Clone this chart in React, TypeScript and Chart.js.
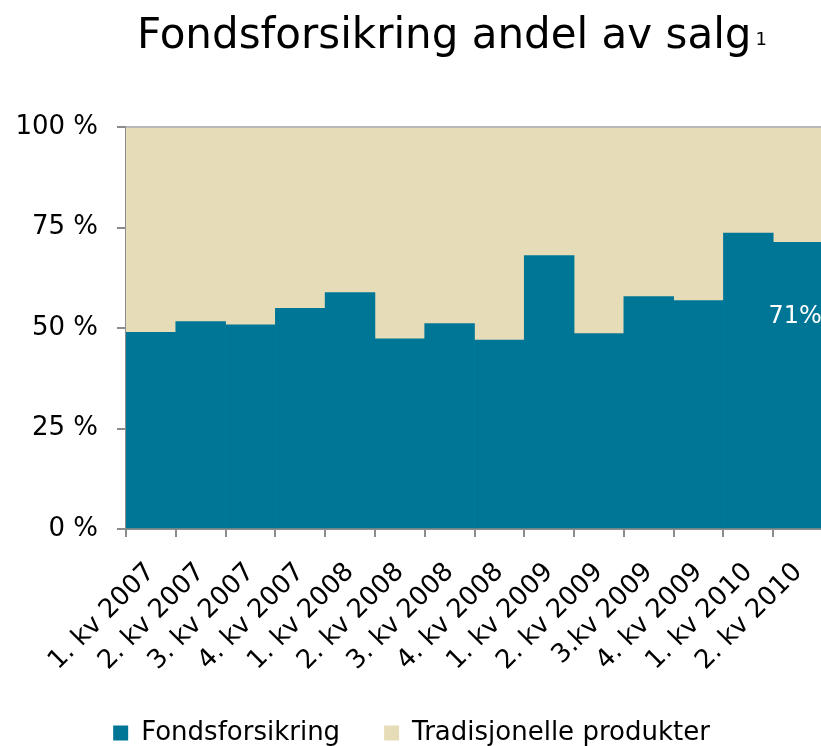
import React, { useEffect, useRef } from "react";
import { Chart, registerables } from "chart.js";

Chart.register(...registerables);

const categories = [
  "1. kv 2007", "2. kv 2007", "3. kv 2007", "4. kv 2007",
  "1. kv 2008", "2. kv 2008", "3. kv 2008", "4. kv 2008",
  "1. kv 2009", "2. kv 2009", "3.kv 2009", "4. kv 2009",
  "1. kv 2010", "2. kv 2010",
];
const fondsforsikring = [48.9, 51.6, 50.8, 54.9, 58.8, 47.3, 51.1, 47.0, 68.0, 48.6, 57.8, 56.8, 73.6, 71.3];
const tradisjonelle = [51.1, 48.4, 49.2, 45.1, 41.2, 52.7, 48.9, 53.0, 32.0, 51.4, 42.2, 43.2, 26.4, 28.7];
const yTickLabels = ["0 %", "25 %", "50 %", "75 %", "100 %"];
const seriesNames = ["Fondsforsikring", "Tradisjonelle produkter"];
const titleText = "Fondsforsikring andel av salg";
const titleSup = "1";
const highlightIndex = 13;

const FONT = "'DejaVu Sans', Verdana, sans-serif";
const TEAL = "#007696";
const BEIGE = "#E6DDB8";
const AXIS = "#8c8c8c";

export default function App() {
  const ref = useRef<HTMLCanvasElement>(null);

  useEffect(() => {
    if (!ref.current) return;

    const titlePlugin = {
      id: "titleDraw",
      afterDraw(chart: any) {
        const ctx = chart.ctx;
        ctx.save();
        ctx.fillStyle = "#000";
        ctx.textAlign = "left";
        ctx.textBaseline = "alphabetic";
        ctx.font = `42px ${FONT}`;
        ctx.fillText(titleText, 137, 48);
        const w = ctx.measureText(titleText).width;
        ctx.font = `18px ${FONT}`;
        ctx.fillText(titleSup, 137 + w + 4, 45);
        ctx.restore();
      },
    };

    const borderPlugin = {
      id: "topBorder",
      afterDatasetsDraw(chart: any) {
        const { ctx, chartArea } = chart;
        ctx.save();
        ctx.strokeStyle = "#b8b8b8";
        ctx.lineWidth = 2;
        ctx.beginPath();
        ctx.moveTo(chartArea.left, chartArea.top);
        ctx.lineTo(chartArea.right, chartArea.top);
        ctx.stroke();
        ctx.restore();
      },
    };

    const valueLabelPlugin = {
      id: "valueLabel",
      afterDatasetsDraw(chart: any) {
        const meta = chart.getDatasetMeta(0);
        const el = meta.data[highlightIndex];
        if (!el) return;
        const ctx = chart.ctx;
        ctx.save();
        ctx.fillStyle = "#ffffff";
        ctx.font = `24px ${FONT}`;
        ctx.textAlign = "center";
        ctx.textBaseline = "middle";
        ctx.fillText(Math.round(fondsforsikring[highlightIndex]) + "%", el.x - 3, el.y + 74);
        ctx.restore();
      },
    };

    const chart = new Chart(ref.current, {
      type: "bar",
      data: {
        labels: categories,
        datasets: [
          {
            label: seriesNames[0],
            data: fondsforsikring,
            backgroundColor: TEAL,
            borderWidth: 0,
            barPercentage: 1,
            categoryPercentage: 1,
          },
          {
            label: seriesNames[1],
            data: tradisjonelle,
            backgroundColor: BEIGE,
            borderWidth: 0,
            barPercentage: 1,
            categoryPercentage: 1,
          },
        ],
      },
      options: {
        responsive: false,
        animation: false,
        layout: { padding: { top: 127, left: 0, right: 7, bottom: 0 } },
        plugins: {
          title: { display: false },
          tooltip: { enabled: false },
          legend: {
            position: "bottom",
            labels: {
              boxWidth: 15,
              boxHeight: 15,
              padding: 44,
              color: "#000",
              font: { size: 26, family: FONT },
            },
          },
        },
        scales: {
          x: {
            stacked: true,
            offset: true,
            grid: {
              offset: true,
              drawOnChartArea: false,
              tickLength: 8,
              color: AXIS,
              lineWidth: 2,
            },
            border: { color: AXIS, width: 2 },
            ticks: {
              autoSkip: false,
              maxRotation: 45,
              minRotation: 45,
              color: "#000",
              padding: 20,
              font: { size: 26, family: FONT },
            },
            afterFit: (s: any) => {
              s.height = 147;
              s.paddingRight = 0;
              s.paddingLeft = 0;
            },
          },
          y: {
            stacked: true,
            min: 0,
            max: 100,
            ticks: {
              stepSize: 25,
              color: "#000",
              padding: 19,
              font: { size: 26, family: FONT },
              callback: (_v: any, i: number) => yTickLabels[i],
            },
            grid: {
              drawOnChartArea: false,
              tickLength: 9,
              color: AXIS,
              lineWidth: 2,
            },
            border: { color: AXIS, width: 2 },
            afterFit: (s: any) => {
              s.width = 126;
            },
          },
        },
      },
      plugins: [titlePlugin, borderPlugin, valueLabelPlugin],
    });

    return () => chart.destroy();
  }, []);

  return (
    <div
      style={{
        position: "fixed",
        left: 0,
        top: 0,
        width: 821,
        height: 746,
        overflow: "hidden",
        background: "#fff",
      }}
    >
      <canvas ref={ref} width={830} height={756} style={{ display: "block" }} />
    </div>
  );
}
